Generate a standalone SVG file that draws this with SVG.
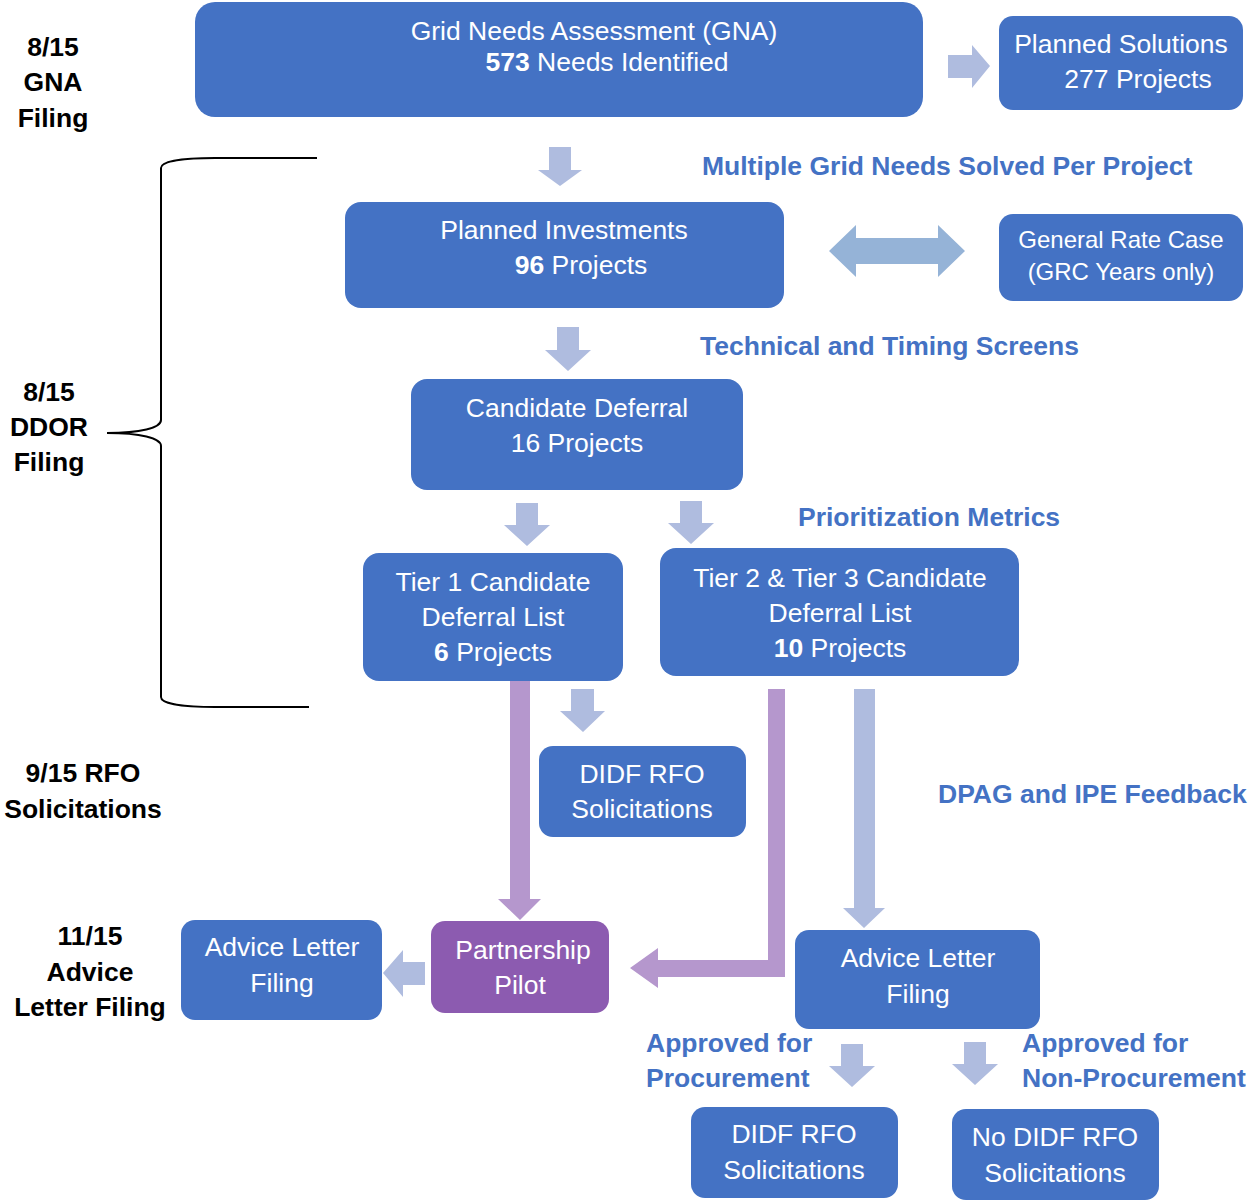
<svg xmlns="http://www.w3.org/2000/svg" width="1252" height="1201" viewBox="0 0 1252 1201">
<style>
.box{fill:#4472C4}
.pbox{fill:#8C5BB0}
.bt{font-family:"Liberation Sans",Arial,sans-serif;font-size:26.5px;fill:#fff;text-anchor:middle}
.b{font-weight:bold}
.lbl{font-family:"Liberation Sans",Arial,sans-serif;font-size:26.5px;font-weight:bold;fill:#4472C4}
.side{font-family:"Liberation Sans",Arial,sans-serif;font-size:26.5px;font-weight:bold;fill:#000;text-anchor:middle}
.la{fill:#AFBCDF}
.pa{fill:#B597CD}
.da{fill:#95B3D7}
.brace{fill:none;stroke:#000;stroke-width:2}
</style>
<rect width="1252" height="1201" fill="#fff"/>

<g id="side-labels">
<text class="side" x="53" y="56">8/15</text>
<text class="side" x="53" y="91">GNA</text>
<text class="side" x="53" y="127">Filing</text>
<text class="side" x="49" y="401">8/15</text>
<text class="side" x="49" y="436">DDOR</text>
<text class="side" x="49" y="471">Filing</text>
<text class="side" x="83" y="782">9/15 RFO</text>
<text class="side" x="83" y="818">Solicitations</text>
<text class="side" x="90" y="945">11/15</text>
<text class="side" x="90" y="981">Advice</text>
<text class="side" x="90" y="1016">Letter Filing</text>
</g>

<g id="brace">
<path class="brace" d="M317,158 H215 C185,158 161,161 161,168 V420 C161,428 140,433 107,433 C140,433 161,438 161,446 V697 C161,704 185,707 215,707 H309"/>
</g>

<g id="connectors">
<polygon class="la" points="948,55 972,55 972,45 990,66 972,88 972,78 948,78"/>
<polygon class="la" points="549,147 571,147 571,170 582,170 560,186 538,170 549,170"/>
<polygon class="da" points="829,251 856,225 856,238 938,238 938,225 965,251 938,277 938,264 856,264 856,277"/>
<polygon class="la" points="557,327 579,327 579,350 591,350 568,371 545,350 557,350"/>
<polygon class="la" points="516,503 538,503 538,525 550,525 527,546 504,525 516,525"/>
<polygon class="la" points="680,501 702,501 702,523 714,523 691,544 668,523 680,523"/>
<polygon class="la" points="571,689 594,689 594,711 605,711 583,732 560,711 571,711"/>
<polygon class="pa" points="510,681 530,681 530,899 541,899 520,920 498,899 510,899"/>
<polygon class="pa" points="768,689 785,689 785,977 658,977 658,988 630,968 658,948 658,960 768,960"/>
<polygon class="la" points="854,689 875,689 875,908 885,908 864,928 843,908 854,908"/>
<polygon class="la" points="425,962 425,985 403,985 403,997 383,973 403,950 403,962"/>
<polygon class="la" points="841,1044 863,1044 863,1066 875,1066 852,1087 829,1066 841,1066"/>
<polygon class="la" points="964,1042 986,1042 986,1064 998,1064 975,1085 952,1064 964,1064"/>
</g>

<g id="connector-labels">
<text class="lbl" x="702" y="175">Multiple Grid Needs Solved Per Project</text>
<text class="lbl" x="700" y="355">Technical and Timing Screens</text>
<text class="lbl" x="798" y="526">Prioritization Metrics</text>
<text class="lbl" x="938" y="803">DPAG and IPE Feedback</text>
<text class="lbl" x="646" y="1052">Approved for</text>
<text class="lbl" x="646" y="1087">Procurement</text>
<text class="lbl" x="1022" y="1052">Approved for</text>
<text class="lbl" x="1022" y="1087">Non-Procurement</text>
</g>

<g id="gna">
<rect class="box" x="195" y="2" width="728" height="115" rx="20"/>
<text class="bt" x="594" y="40">Grid Needs Assessment (GNA)</text>
<text class="bt" x="607" y="71"><tspan class="b">573</tspan> Needs Identified</text>
</g>
<g id="planned-solutions">
<rect class="box" x="999" y="16" width="244" height="94" rx="14"/>
<text class="bt" x="1121" y="53">Planned Solutions</text>
<text class="bt" x="1138" y="88">277 Projects</text>
</g>
<g id="planned-investments">
<rect class="box" x="345" y="202" width="439" height="106" rx="16"/>
<text class="bt" x="564" y="239">Planned Investments</text>
<text class="bt" x="581" y="274"><tspan class="b">96</tspan> Projects</text>
</g>
<g id="grc">
<rect class="box" x="999" y="214" width="244" height="87" rx="14"/>
<text class="bt" x="1121" y="248" style="font-size:24px">General Rate Case</text>
<text class="bt" x="1121" y="280" style="font-size:24px">(GRC Years only)</text>
</g>
<g id="candidate-deferral">
<rect class="box" x="411" y="379" width="332" height="111" rx="16"/>
<text class="bt" x="577" y="417">Candidate Deferral</text>
<text class="bt" x="577" y="452">16 Projects</text>
</g>
<g id="tier1">
<rect class="box" x="363" y="553" width="260" height="128" rx="16"/>
<text class="bt" x="493" y="591">Tier 1 Candidate</text>
<text class="bt" x="493" y="626">Deferral List</text>
<text class="bt" x="493" y="661"><tspan class="b">6</tspan> Projects</text>
</g>
<g id="tier23">
<rect class="box" x="660" y="548" width="359" height="128" rx="16"/>
<text class="bt" x="840" y="587">Tier 2 &amp; Tier 3 Candidate</text>
<text class="bt" x="840" y="622">Deferral List</text>
<text class="bt" x="840" y="657"><tspan class="b">10</tspan> Projects</text>
</g>
<g id="didf-rfo-1">
<rect class="box" x="539" y="746" width="207" height="91" rx="14"/>
<text class="bt" x="642" y="783">DIDF RFO</text>
<text class="bt" x="642" y="818">Solicitations</text>
</g>
<g id="partnership-pilot">
<rect class="pbox" x="431" y="921" width="178" height="92" rx="14"/>
<text class="bt" x="523" y="959">Partnership</text>
<text class="bt" x="520" y="994">Pilot</text>
</g>
<g id="advice-letter-left">
<rect class="box" x="181" y="920" width="201" height="100" rx="14"/>
<text class="bt" x="282" y="956">Advice Letter</text>
<text class="bt" x="282" y="992">Filing</text>
</g>
<g id="advice-letter-right">
<rect class="box" x="795" y="930" width="245" height="99" rx="14"/>
<text class="bt" x="918" y="967">Advice Letter</text>
<text class="bt" x="918" y="1003">Filing</text>
</g>
<g id="didf-rfo-2">
<rect class="box" x="691" y="1107" width="207" height="91" rx="14"/>
<text class="bt" x="794" y="1143">DIDF RFO</text>
<text class="bt" x="794" y="1179">Solicitations</text>
</g>
<g id="no-didf-rfo">
<rect class="box" x="952" y="1109" width="207" height="91" rx="14"/>
<text class="bt" x="1055" y="1146">No DIDF RFO</text>
<text class="bt" x="1055" y="1182">Solicitations</text>
</g>
</svg>
